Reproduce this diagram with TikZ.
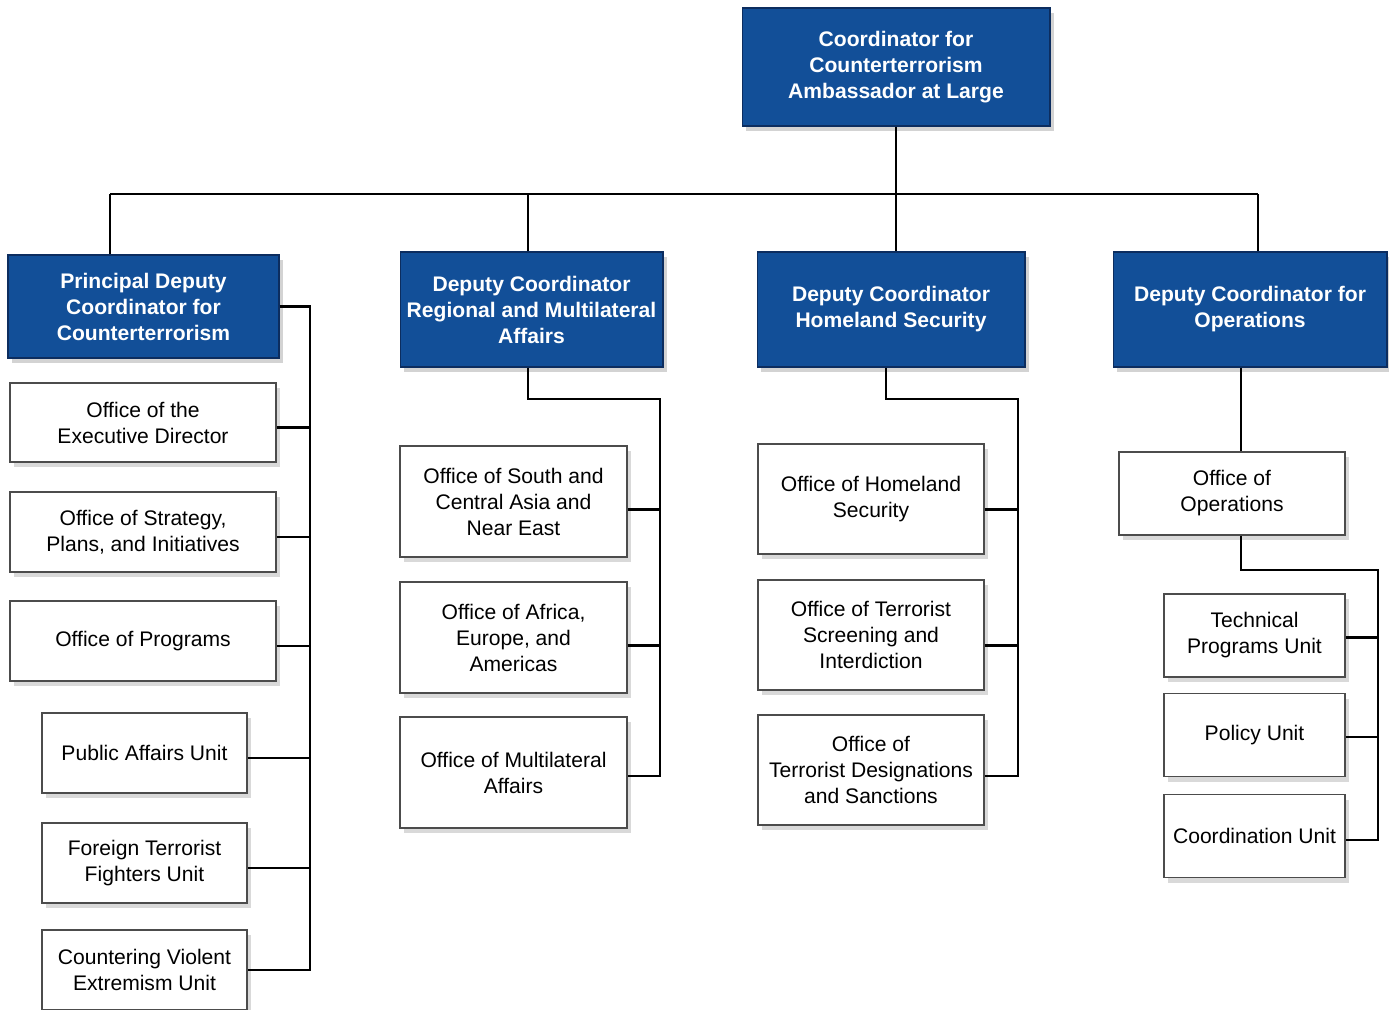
\documentclass[tikz,border=0pt]{standalone}
\usepackage{fontspec}
\setmainfont{Liberation Sans}
\usetikzlibrary{shadows}
\definecolor{ctblue}{RGB}{18,79,152}
\definecolor{ctnavy}{RGB}{12,45,95}
\begin{document}
\begin{tikzpicture}[
    x=0.02cm, y=-0.02cm,
    lead/.style={rectangle, draw=ctnavy, line width=0.6pt, fill=ctblue, text=white, align=center,
        font=\fontsize{12}{14.8}\selectfont\bfseries,
        drop shadow={opacity=0.35, shadow xshift=0.08cm, shadow yshift=-0.1cm}},
    office/.style={rectangle, draw=black!70, line width=0.8pt, fill=white, align=center,
        font=\fontsize{12}{14.8}\selectfont,
        drop shadow={opacity=0.3, shadow xshift=0.08cm, shadow yshift=-0.1cm}},
    link/.style={line width=1.2pt, black}
]
    \useasboundingbox (0,0) rectangle (1389,1009);

    % Coordinator
    \node[lead, minimum width=6.16cm, minimum height=2.36cm] (coord) at (896,67) {Coordinator for\\Counterterrorism\\Ambassador at Large};

    % Deputies
    \node[lead, minimum width=5.42cm, minimum height=2.06cm] (pdc) at (143.5,306.5) {Principal Deputy\\Coordinator for\\Counterterrorism};
    \node[lead, minimum width=5.26cm, minimum height=2.3cm] (rma) at (531.5,309.5) {Deputy Coordinator\\Regional and Multilateral\\Affairs};
    \node[lead, minimum width=5.36cm, minimum height=2.3cm] (hsd) at (891,309.5) {Deputy Coordinator\\Homeland Security};
    \node[lead, minimum width=5.48cm, minimum height=2.3cm] (opd) at (1250,309.5) {Deputy Coordinator for\\Operations};

    % Principal deputy offices
    \node[office, minimum width=5.32cm, minimum height=1.58cm] (exec) at (143,422.5) {Office of the\\Executive Director};
    \node[office, minimum width=5.32cm, minimum height=1.6cm] (spi) at (143,532) {Office of Strategy,\\Plans, and Initiatives};
    \node[office, minimum width=5.32cm, minimum height=1.6cm] (prog) at (143,641) {Office of Programs};
    \node[office, minimum width=4.1cm, minimum height=1.6cm] (pau) at (144.5,753) {Public Affairs Unit};
    \node[office, minimum width=4.1cm, minimum height=1.6cm] (ftf) at (144.5,863) {Foreign Terrorist\\Fighters Unit};
    \node[office, minimum width=4.1cm, minimum height=1.6cm] (cve) at (144.5,970) {Countering Violent\\Extremism Unit};

    % Regional and multilateral offices
    \node[office, minimum width=4.54cm, minimum height=2.22cm] (sca) at (513.5,501.5) {Office of South and\\Central Asia and\\Near East};
    \node[office, minimum width=4.54cm, minimum height=2.22cm] (afr) at (513.5,637.5) {Office of Africa,\\Europe, and\\Americas};
    \node[office, minimum width=4.54cm, minimum height=2.22cm] (mla) at (513.5,772.5) {Office of Multilateral\\Affairs};

    % Homeland security offices
    \node[office, minimum width=4.52cm, minimum height=2.2cm] (hso) at (871,499) {Office of Homeland\\Security};
    \node[office, minimum width=4.52cm, minimum height=2.2cm] (tsi) at (871,635) {Office of Terrorist\\Screening and\\Interdiction};
    \node[office, minimum width=4.52cm, minimum height=2.2cm] (tds) at (871,770) {Office of\\Terrorist Designations\\and Sanctions};

    % Operations
    \node[office, minimum width=4.52cm, minimum height=1.66cm] (ops) at (1232,493.5) {Office of\\Operations};
    \node[office, minimum width=3.62cm, minimum height=1.66cm] (tpu) at (1254.5,635.5) {Technical\\Programs Unit};
    \node[office, minimum width=3.62cm, minimum height=1.66cm] (pol) at (1254.5,735) {Policy Unit};
    \node[office, minimum width=3.62cm, minimum height=1.66cm] (cdu) at (1254.5,836) {Coordination Unit};

    % Bus coordinates
    \coordinate (topL) at (110,194);
    \coordinate (topR) at (1258,194);
    \coordinate (bus1) at (310,0);
    \coordinate (bus2) at (660,399);
    \coordinate (bus3) at (1018,399);
    \coordinate (drop4) at (1241,0);
    \coordinate (bus4) at (1378,570);

    % Top level lines
    \draw[link] (topL) -- (topR);
    \draw[link] (coord.south) -- (coord.south |- hsd.north);
    \draw[link] (topL) -- (topL |- pdc.north);
    \draw[link] (rma.north -| 528,0) -- (topL -| 528,0);
    \draw[link] (topR) -- (topR |- opd.north);

    % Principal deputy bus
    \draw[link] (pdc.east) -- (pdc.east -| bus1) -- (cve.east -| bus1) -- (cve.east);
    \foreach \n in {exec,spi,prog,pau,ftf}
        \draw[link] ([yshift=-0.1cm]\n.east) -- ([yshift=-0.1cm]\n.east -| bus1);

    % Regional bus
    \draw[link] (rma.south -| 528,0) |- (bus2) -- ([yshift=-0.07cm]bus2 |- mla.east) -- ([yshift=-0.07cm]mla.east);
    \foreach \n in {sca,afr}
        \draw[link] ([yshift=-0.16cm]\n.east) -- ([yshift=-0.16cm]\n.east -| bus2);

    % Homeland bus
    \draw[link] (hsd.south -| 886,0) |- (bus3) -- ([yshift=-0.12cm]bus3 |- tds.east) -- ([yshift=-0.12cm]tds.east);
    \foreach \n in {hso,tsi}
        \draw[link] ([yshift=-0.21cm]\n.east) -- ([yshift=-0.21cm]\n.east -| bus3);

    % Operations bus
    \draw[link] (drop4 |- opd.south) -- (drop4 |- ops.north);
    \draw[link] (drop4 |- ops.south) |- (bus4) -- ([yshift=-0.08cm]bus4 |- cdu.east) -- ([yshift=-0.08cm]cdu.east);
    \foreach \n in {tpu,pol}
        \draw[link] ([yshift=-0.04cm]\n.east) -- ([yshift=-0.04cm]\n.east -| bus4);
\end{tikzpicture}
\end{document}
